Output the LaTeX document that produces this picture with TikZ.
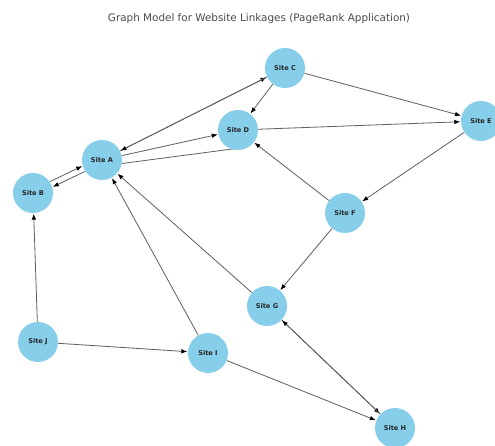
\documentclass[tikz,border=0pt]{standalone}
\usepackage{fontspec}
\setmainfont{DejaVu Sans}
\usetikzlibrary{arrows.meta,backgrounds}
\definecolor{skyb}{RGB}{135,206,235}
\definecolor{edgec}{RGB}{95,95,95}
\tikzset{
  site/.style={circle,fill=skyb,draw=none,minimum size=40pt,inner sep=0pt,font=\fontsize{6.6}{7}\selectfont\bfseries,text=black!85},
  link/.style={draw=edgec,line width=0.8pt,-{Latex[length=6pt,width=4.5pt,color=black]},shorten >=0.5pt},
  plainlink/.style={draw=edgec,line width=0.8pt}
}
\begin{document}
\begin{tikzpicture}[x=1pt,y=-1pt]
\useasboundingbox (0,0) rectangle (495,446);
\node[font=\fontsize{10.4}{12}\selectfont,text=black!70] (title) at (259,19) {Graph Model for Website Linkages (PageRank Application)};
\node[site] (C) at (285,68) {Site C};
\node[site] (D) at (238,130) {Site D};
\node[site] (E) at (481,121) {Site E};
\node[site] (A) at (102,160) {Site A};
\node[site] (B) at (33,193) {Site B};
\node[site] (F) at (345,213) {Site F};
\node[site] (G) at (267,306) {Site G};
\node[site] (J) at (38,342) {Site J};
\node[site] (I) at (208,353) {Site I};
\node[site] (H) at (395,428) {Site H};
\coordinate (dlow) at (240,148);
\begin{scope}[on background layer]
\fill[white] (0,0) rectangle (495,446);
\draw[link] (A) -- (C);
\draw[link] (C) -- (A);
\draw[link] (A) -- (D);
\draw[plainlink] (A.-10) -- (dlow);
\draw[link] (B.34) -- (A.197);
\draw[link] (A.214) -- (B.17);
\draw[link] (J) -- (B);
\draw[link] (J) -- (I);
\draw[link] (I) -- (A);
\draw[link] (G) -- (A);
\draw[link] (I) -- (H);
\draw[link] (G) -- (H);
\draw[link] (H) -- (G);
\draw[link] (F) -- (G);
\draw[link] (F) -- (D);
\draw[link] (E) -- (F);
\draw[link] (C) -- (D);
\draw[link] (C) -- (E);
\draw[link] (D) -- (E);
\end{scope}
\end{tikzpicture}
\end{document}
